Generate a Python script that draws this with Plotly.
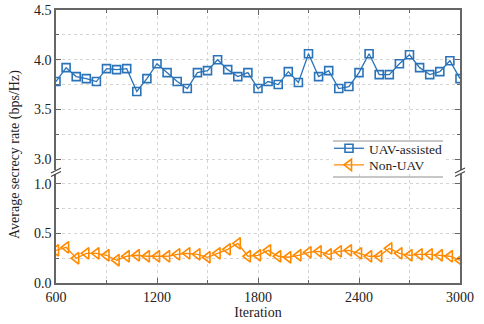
import plotly.graph_objects as go

# =============================================================================
# Data
# =============================================================================
iterations = [600, 660, 720, 780, 840, 900, 960, 1020, 1080, 1140,
              1200, 1260, 1320, 1380, 1440, 1500, 1560, 1620, 1680, 1740,
              1800, 1860, 1920, 1980, 2040, 2100, 2160, 2220, 2280, 2340,
              2400, 2460, 2520, 2580, 2640, 2700, 2760, 2820, 2880, 2940, 3000]

uav_assisted = [3.78, 3.92, 3.83, 3.81, 3.78, 3.91, 3.90, 3.91, 3.68, 3.81,
                3.96, 3.87, 3.78, 3.71, 3.87, 3.89, 4.00, 3.90, 3.83, 3.87,
                3.71, 3.78, 3.75, 3.88, 3.77, 4.06, 3.83, 3.89, 3.71, 3.73,
                3.87, 4.06, 3.85, 3.85, 3.96, 4.05, 3.92, 3.85, 3.88, 3.99, 3.81]

non_uav = [0.33, 0.36, 0.25, 0.30, 0.30, 0.28, 0.23, 0.27, 0.28, 0.27,
           0.27, 0.27, 0.29, 0.30, 0.29, 0.26, 0.30, 0.34, 0.40, 0.27,
           0.28, 0.33, 0.27, 0.26, 0.28, 0.31, 0.32, 0.29, 0.32, 0.33,
           0.30, 0.27, 0.27, 0.35, 0.30, 0.28, 0.29, 0.29, 0.28, 0.27, 0.23]

x_ticks = [600, 1200, 1800, 2400, 3000]
top_ticks = [3.0, 3.5, 4.0, 4.5]
bottom_ticks = [0.0, 0.5, 1.0]

BLUE = "#2b73b8"
ORANGE = "#ff8a00"
FONT = "Liberation Serif"
AXIS = "#666666"
GRID = "#d4d4d4"

# plot area in pixels: x 56..460, y 10..283 (broken y axis)
W, H = 484, 324
L, R, T, B = 56, 24, 10, 41
BREAK_TOP, BREAK_BOT = 0.414, 0.399


def px(x):
    return (x - L) / (W - L - R)


def py(y):
    return (H - B - y) / (H - B - T)


fig = go.Figure()

fig.add_trace(go.Scatter(
    x=iterations, y=uav_assisted, name="UAV-assisted",
    xaxis="x2", yaxis="y2", mode="lines+markers", legend="legend",
    line=dict(color=BLUE, width=1.3),
    marker=dict(symbol="square-open", size=8, color=BLUE, line=dict(width=1.6)),
))
fig.add_trace(go.Scatter(
    x=iterations, y=non_uav, name="Non-UAV",
    xaxis="x", yaxis="y", mode="lines+markers", legend="legend2",
    line=dict(color=ORANGE, width=1.3),
    marker=dict(symbol="triangle-left-open", size=10, color=ORANGE, line=dict(width=1.6)),
))

xcommon = dict(
    range=[600, 3000], tickvals=x_ticks, showline=True, linecolor=AXIS, linewidth=1.5,
    ticks="inside", ticklen=5, tickcolor=AXIS, tickwidth=1.2, automargin=False,
    showgrid=True, gridcolor=GRID, griddash="dot", gridwidth=1, zeroline=False,
    minor=dict(dtick=300, tick0=600, ticks="inside", ticklen=3, tickcolor=AXIS,
               showgrid=True, gridcolor=GRID, griddash="dot"),
)
ycommon = dict(
    showline=True, linecolor=AXIS, linewidth=1.5, mirror="ticks",
    ticks="inside", ticklen=5, tickcolor=AXIS, tickwidth=1.2, automargin=False,
    showgrid=True, gridcolor=GRID, griddash="dot", gridwidth=1, zeroline=False,
    tickformat=".1f", ticklabeloverflow="allow",
    minor=dict(dtick=0.25, ticks="inside", ticklen=3, tickcolor=AXIS,
               showgrid=True, gridcolor=GRID, griddash="dot"),
)
legend_style = dict(xanchor="left", yanchor="top", bgcolor="rgba(0,0,0,0)", borderwidth=0,
                    font=dict(family=FONT, size=13.5, color="#222"), itemwidth=30)

fig.update_layout(
    width=W, height=H,
    margin=dict(l=L, r=R, t=T, b=B, autoexpand=False),
    paper_bgcolor="white", plot_bgcolor="white",
    font=dict(family=FONT, size=14, color="#222"),
    xaxis=dict(xcommon, anchor="y", title=dict(text="Iteration", font=dict(size=14), standoff=2)),
    xaxis2=dict(xcommon, anchor="y2", side="top", matches="x", showticklabels=False),
    yaxis=dict(ycommon, domain=[0, BREAK_BOT], range=[0, 1.1], tickvals=bottom_ticks, anchor="x"),
    yaxis2=dict(ycommon, domain=[BREAK_TOP, 1], range=[2.89, 4.5005], tickvals=top_ticks, anchor="x2"),
    showlegend=True,
    legend=dict(legend_style, x=px(329), y=py(133)),
    legend2=dict(legend_style, x=px(329), y=py(149.5)),
)

# y-axis title spanning both panels
fig.add_annotation(
    text="Average secrecy rate (bps/Hz)", textangle=-90,
    xref="paper", yref="paper", x=px(15), y=py(155), xanchor="center", yanchor="middle",
    showarrow=False, font=dict(family=FONT, size=14, color="#222"),
)

# legend frame: white fill over the grid, lines on top and bottom only
fig.add_shape(type="rect", xref="x2", yref="y2", x0=2245, x1=2900, y0=2.7, y1=3.19,
              fillcolor="white", line=dict(width=0), layer="between")
for yy in (141, 177):
    fig.add_shape(type="line", xref="paper", yref="paper",
                  x0=px(333), x1=px(443), y0=py(yy), y1=py(yy),
                  line=dict(color="#b5b5b5", width=1.5))

# axis break marks
for xx in (56, 460):
    for yy in (170.5, 174):
        fig.add_shape(type="line", xref="paper", yref="paper",
                      x0=px(xx - 5), x1=px(xx + 5), y0=py(yy + 2.5), y1=py(yy - 2.5),
                      line=dict(color="#444", width=1.2))

# drop the default 8px page margin so the figure sits at the window corner
fig.write_html("out.html", config={"displayModeBar": False},
               post_script="document.body.style.margin = '0';")
